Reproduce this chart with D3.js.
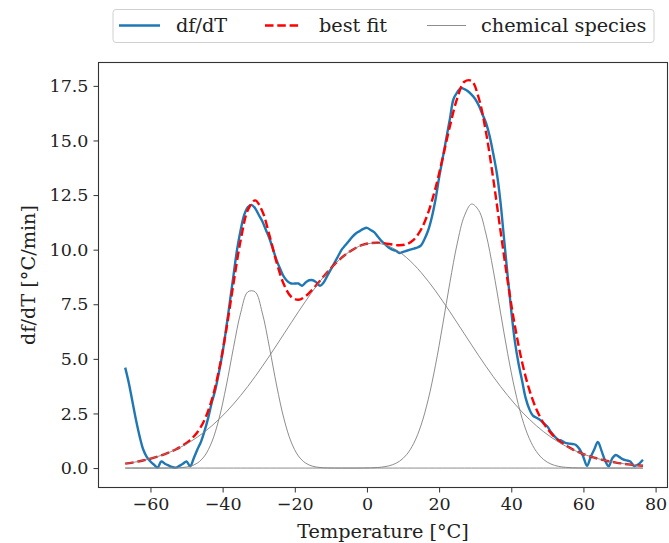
<!DOCTYPE html>
<html>
<head>
<meta charset="utf-8">
<script src="https://cdn.jsdelivr.net/npm/d3@7"></script>
<style>
  html, body { margin: 0; padding: 0; background: #fff; }
  svg { display: block; }
  text { font-family: "DejaVu Serif", serif; fill: #222; }
</style>
</head>
<body>
<svg id="chart" width="669" height="543"></svg>
<script>
// ---------------- data ----------------
// measured df/dT curve
const tempMeasured = [
  -67,-66,-65,-64,-63,-62,-61,-60,-59,-58,-57,-56,-55,-54,-53,-52,-51,-50,-49,-48,
  -47,-46,-45,-44,-43,-42,-41,-40,-39,-38,-37,-36,-35,-34,-33,-32,-31,-30,-29,-28,
  -27,-26,-25,-24,-23,-22,-21,-20,-19,-18,-17,-16,-15,-14,-13,-12,-11,-10,-9,-8,
  -7,-6,-5,-4,-3,-2,-1,0,1,2,3,4,5,6,7,8,9,10,11,12,
  13,14,15,16,17,18,19,20,21,22,23,24,25,26,27,28,29,30,31,32,
  33,34,35,36,37,38,39,40,41,42,43,44,45,46,47,48,49,50,51,52,
  53,54,55,56,57,58,59,60,61,62,63,64,65,66,67,68,69,70,71,72,
  73,74,75,76.5
];
const dfdt = [
  4.6,3.9,3.05,2.2,1.45,0.85,0.5,0.3,0.15,0.03,0.3,0.2,0.12,0.05,0.02,0.1,0.2,0.3,0.08,0.45,
  0.85,1.2,1.7,2.3,3.0,3.6,4.4,5.3,6.4,7.6,8.8,10.0,10.9,11.6,11.95,12.05,11.9,11.6,11.3,10.9,
  10.5,10.0,9.5,9.1,8.75,8.55,8.45,8.45,8.45,8.35,8.5,8.6,8.6,8.5,8.35,8.5,8.8,9.1,9.4,9.7,
  10.0,10.2,10.4,10.6,10.75,10.85,10.95,11.0,10.9,10.8,10.6,10.4,10.25,10.1,10.0,9.95,9.85,9.9,9.95,10.0,
  10.05,10.1,10.2,10.5,10.9,11.5,12.3,13.3,14.2,15.1,16.0,16.9,17.2,17.4,17.35,17.25,17.1,16.9,16.6,16.2,
  15.8,15.2,14.4,13.5,12.2,10.5,8.8,7.2,5.8,4.8,4.0,3.2,2.7,2.4,2.3,2.2,2.05,1.9,1.65,1.45,
  1.3,1.25,1.15,1.12,1.1,1.05,0.85,0.5,0.1,0.5,0.85,1.2,0.8,0.35,0.08,0.45,0.6,0.5,0.4,0.35,
  0.3,0.1,0.15,0.38
];

// fitted curves (sampled)
const tempFit = [
  -67,-65,-63,-61,-59,-57,-55,-53,-51,-49,-47,-45,-43,-41,-39,-37,-35,-33,-31,-29,
  -27,-25,-23,-21,-19,-17,-15,-13,-11,-9,-7,-5,-3,-1,1,3,5,7,9,11,
  13,15,17,19,21,23,25,27,29,31,33,35,37,39,41,43,45,47,49,51,
  53,55,57,59,61,63,65,67,69,71,73,75,76.5
];
const bestFit = [
  0.201,0.252,0.314,0.387,0.476,0.580,0.705,0.852,1.037,1.282,1.643,2.213,3.124,4.491,6.322,8.435,10.427,11.812,12.258,11.759,
  10.645,9.394,8.401,7.844,7.708,7.870,8.194,8.578,8.964,9.322,9.633,9.891,10.089,10.228,10.301,10.317,10.288,10.235,10.201,10.249,
  10.460,10.922,11.705,12.824,14.202,15.657,16.918,17.689,17.729,16.933,15.369,13.253,10.885,8.566,6.514,4.849,3.588,2.679,2.043,1.600,
  1.282,1.045,0.858,0.708,0.580,0.476,0.387,0.314,0.252,0.201,0.160,0.126,0.105
];
const species1 = [
  0,0,0,0,0,0,0.002,0.007,0.026,0.082,0.227,0.554,1.192,2.256,3.755,5.505,7.104,8.070,8.070,7.104,
  5.505,3.755,2.256,1.192,0.554,0.227,0.082,0.026,0.007,0.002,0,0,0,0,0,0,0,0,0,0,
  0,0,0,0,0,0,0,0,0,0,0,0,0,0,0,0,0,0,0,0,
  0,0,0,0,0,0,0,0,0,0,0,0,0
];
const species2 = [
  0.201,0.252,0.314,0.387,0.476,0.580,0.703,0.845,1.011,1.200,1.416,1.659,1.932,2.235,2.567,2.930,3.323,3.742,4.188,4.655,
  5.140,5.639,6.145,6.652,7.154,7.643,8.112,8.552,8.957,9.320,9.633,9.891,10.089,10.224,10.291,10.291,10.224,10.089,9.891,9.633,
  9.320,8.957,8.552,8.112,7.643,7.154,6.652,6.145,5.639,5.140,4.655,4.188,3.742,3.323,2.930,2.567,2.235,1.932,1.659,1.416,
  1.200,1.011,0.845,0.703,0.580,0.476,0.387,0.314,0.252,0.201,0.160,0.126,0.105
];
const species3 = [
  0,0,0,0,0,0,0,0,0,0,0,0,0,0,0,0,0,0,0,0,
  0,0,0,0,0,0,0,0,0,0,0,0,0,0.004,0.010,0.026,0.064,0.146,0.310,0.616,
  1.140,1.965,3.153,4.712,6.559,8.503,10.266,11.544,12.090,11.793,10.714,9.065,7.143,5.243,3.584,2.282,1.353,0.747,0.384,0.184,
  0.082,0.034,0.013,0.005,0,0,0,0,0,0,0,0,0
];

const xTicks = [-60,-40,-20,0,20,40,60,80];
const yTicks = [0,2.5,5,7.5,10,12.5,15,17.5];
const legendLabels = ["df/dT","best fit","chemical species"];

// ---------------- chart ----------------
const svg = d3.select("#chart");
const L = 98.5, R = 667.5, T = 62.5, B = 487.5;
const FS = "17.5px";   // tick labels
const FL = "19.25px";  // axis labels, legend

const x = d3.scaleLinear().domain([-74.4, 83.3]).range([L, R]);
const y = d3.scaleLinear().domain([-0.89, 18.57]).range([B, T]);

svg.append("defs").append("clipPath").attr("id","clip")
  .append("rect").attr("x",L).attr("y",T).attr("width",R-L).attr("height",B-T);

const plot = svg.append("g").attr("clip-path","url(#clip)");

const line = d3.line().x(d => x(d[0])).y(d => y(d[1])).curve(d3.curveCatmullRom.alpha(0.5));

plot.append("path")
  .datum(tempMeasured.map((t,i) => [t, dfdt[i]]))
  .attr("d", line)
  .attr("fill","none").attr("stroke","#1f77b4").attr("stroke-width",2.4)
  .attr("stroke-linejoin","round").attr("stroke-linecap","butt");

plot.append("path")
  .datum(tempFit.map((t,i) => [t, bestFit[i]]))
  .attr("d", line)
  .attr("fill","none").attr("stroke","#ff0000").attr("stroke-width",2.4)
  .attr("stroke-dasharray","8.5,3.8");

[species1, species2, species3].forEach(s => {
  plot.append("path")
    .datum(tempFit.map((t,i) => [t, s[i]]))
    .attr("d", line)
    .attr("fill","none").attr("stroke","#808080").attr("stroke-width",0.9);
});

// axes
const xAxis = d3.axisBottom(x).tickValues(xTicks).tickSize(5).tickPadding(5)
  .tickFormat(d => d < 0 ? "\u2212" + Math.abs(d) : String(d));
const gx = svg.append("g").attr("transform", `translate(0,${B})`).call(xAxis);
const yAxis = d3.axisLeft(y).tickValues(yTicks).tickSize(5).tickPadding(5)
  .tickFormat(d3.format(".1f"));
const gy = svg.append("g").attr("transform", `translate(${L},0)`).call(yAxis);
[gx, gy].forEach(g => {
  g.select(".domain").remove();
  g.selectAll(".tick line").attr("stroke","#333").attr("stroke-width",1);
  g.selectAll(".tick text").attr("font-family","DejaVu Serif").attr("font-size",FS).attr("fill","#222");
});

svg.append("rect").attr("x",L).attr("y",T).attr("width",R-L).attr("height",B-T)
  .attr("fill","none").attr("stroke","#333").attr("stroke-width",1.1);

// labels
svg.append("text").attr("x",(L+R)/2).attr("y",538).attr("text-anchor","middle")
  .attr("font-size",FL).text("Temperature [°C]");
svg.append("text").attr("transform",`translate(35,${(T+B)/2}) rotate(-90)`)
  .attr("text-anchor","middle").attr("font-size",FL).text("df/dT [°C/min]");

// legend
const lg = svg.append("g");
lg.append("rect").attr("x",113).attr("y",9.5).attr("width",541).attr("height",33).attr("rx",3)
  .attr("fill","#fff").attr("fill-opacity",0.8).attr("stroke","#d0d0d0").attr("stroke-width",1);
const items = [
  {x1:119, x2:160, tx:176, color:"#1f77b4", w:2.4, dash:null},
  {x1:265, x2:300, tx:319, color:"#ff0000", w:2.4, dash:"8.5,3.8"},
  {x1:427, x2:466, tx:481, color:"#808080", w:0.9, dash:null}
];
items.forEach((it,i) => {
  const ln = lg.append("line").attr("x1",it.x1).attr("x2",it.x2).attr("y1",25.5).attr("y2",25.5)
    .attr("stroke",it.color).attr("stroke-width",it.w);
  if (it.dash) ln.attr("stroke-dasharray",it.dash);
  lg.append("text").attr("x",it.tx).attr("y",32).attr("font-size",FL).text(legendLabels[i]);
});
</script>
</body>
</html>
